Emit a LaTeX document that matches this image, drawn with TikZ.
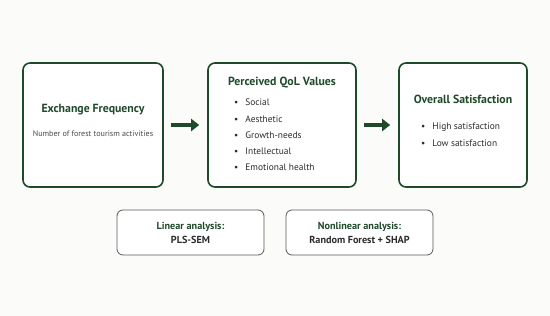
\documentclass[tikz,border=0pt]{standalone}
\usepackage{fontspec}
\setmainfont{PT Sans}
\usetikzlibrary{positioning,arrows.meta}
\definecolor{forest}{HTML}{1F4A2A}
\definecolor{bodytext}{HTML}{2B2B2B}
\definecolor{edgegray}{HTML}{5A5A5A}
\definecolor{paper}{HTML}{FBFBFA}

\begin{document}
\begin{tikzpicture}[
    x=1pt, y=1pt,
    stage/.style={draw=forest, line width=1.6pt, rounded corners=7pt, fill=white},
    method/.style={draw=edgegray, line width=0.8pt, rounded corners=6pt, fill=white,
        minimum width=147pt, minimum height=45pt, align=center, inner sep=0pt},
    heading/.style={text=forest, font=\bfseries\fontsize{11.8}{14}\selectfont},
    items/.style={text=bodytext, align=left, font=\fontsize{9.4}{16.2}\selectfont, inner sep=0pt},
    flow/.style={draw=forest, line width=3.4pt, -{Triangle[length=8pt,width=12pt]}, shorten <=7pt, shorten >=8pt}
]
\useasboundingbox[fill=paper] (0,0) rectangle (550,-316);

% Stage boxes
\node[stage, minimum width=140pt, minimum height=124pt] (freq) at (93,-125) {};
\node[stage, minimum width=148pt, minimum height=124pt] (qol) at (282,-125) {};
\node[stage, minimum width=128pt, minimum height=124pt] (sat) at (463,-125) {};

% Exchange Frequency
\node[heading] (freqtitle) at (93,-110) {Exchange Frequency};
\node[text=bodytext!85, font=\fontsize{8.1}{9}\selectfont] (freqsub) at (93,-134) {Number of forest tourism activities};

% Perceived QoL Values
\node[heading] (qoltitle) at (282,-83) {Perceived QoL Values};
\node[items, anchor=north west] (qollist) at (234,-99) {%
  \textbullet\hspace{7pt}Social\\
  \textbullet\hspace{7pt}Aesthetic\\
  \textbullet\hspace{7pt}Growth-needs\\
  \textbullet\hspace{7pt}Intellectual\\
  \textbullet\hspace{7pt}Emotional health};

% Overall Satisfaction
\node[heading] (sattitle) at (463,-99) {Overall Satisfaction};
\node[items, anchor=north west] (satlist) at (421,-123) {%
  \textbullet\hspace{7pt}High satisfaction\\
  \textbullet\hspace{7pt}Low satisfaction};

% Flow arrows
\draw[flow] (freq.east) -- (qol.west);
\draw[flow] (qol.east) -- (sat.west);

% Analysis methods
\node[method] (linear) at (190.5,-232.5) {%
  {\color{forest}\bfseries\fontsize{10.2}{12}\selectfont Linear analysis:}\\[2pt]
  {\color{bodytext}\bfseries\fontsize{10.2}{12}\selectfont PLS-SEM}};
\node[method] (nonlinear) at (359.5,-232.5) {%
  {\color{forest}\bfseries\fontsize{10.2}{12}\selectfont Nonlinear analysis:}\\[2pt]
  {\color{bodytext}\bfseries\fontsize{10.2}{12}\selectfont Random Forest + SHAP}};

\end{tikzpicture}
\end{document}
